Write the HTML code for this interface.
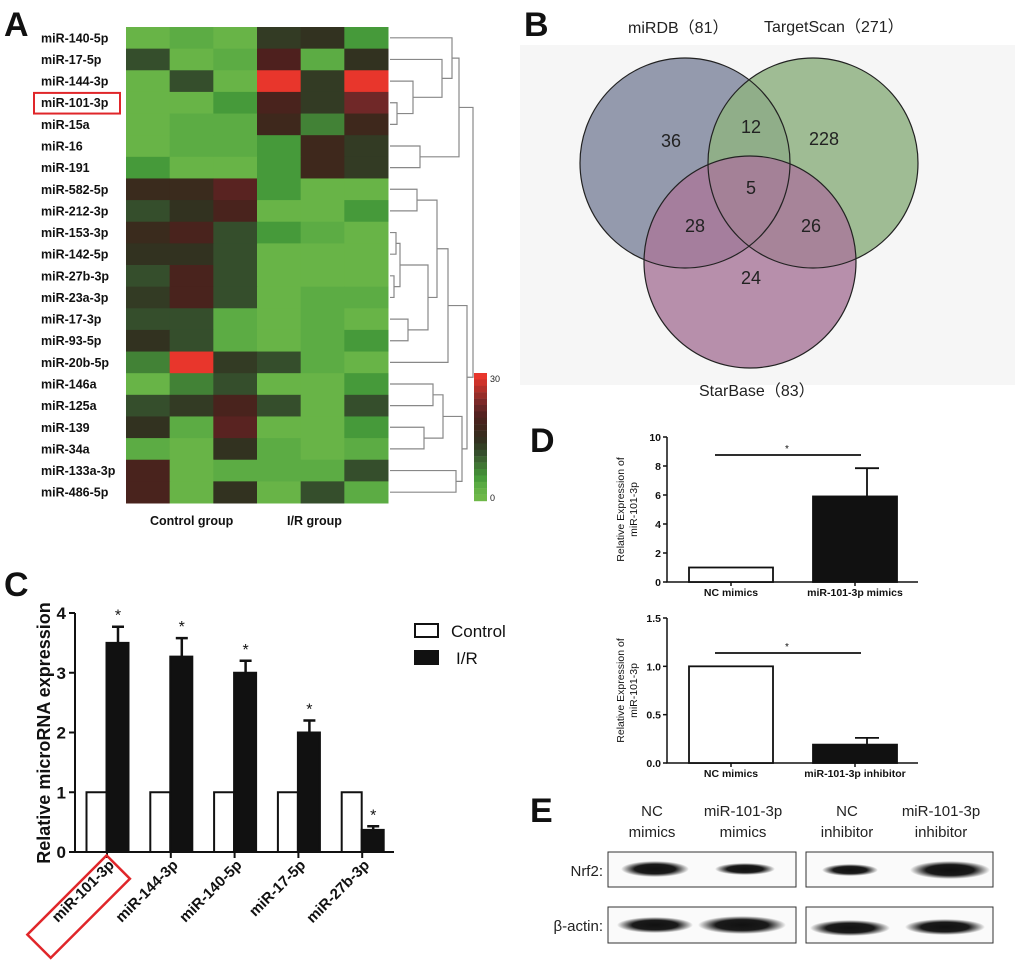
<!DOCTYPE html>
<html><head><meta charset="utf-8"><style>
html,body{margin:0;padding:0;background:#fff;}
svg{display:block;font-family:"Liberation Sans",sans-serif;}
</style></head><body>
<svg id="fig" width="1020" height="966" viewBox="0 0 1020 966" xmlns="http://www.w3.org/2000/svg">
<g font-weight="bold" font-size="34" fill="#111">
<text x="4" y="36">A</text>
<text x="524" y="36">B</text>
<text x="4" y="596">C</text>
<text x="530" y="452">D</text>
<text x="530" y="822">E</text>
</g>
<g id="heat"></g>
<g id="venn">
<rect x="520" y="45" width="495" height="340" fill="#f6f6f6"/>
<text x="628" y="33" font-size="16" fill="#222">miRDB（81）</text>
<text x="764" y="32" font-size="16" fill="#222">TargetScan（271）</text>
<text x="699" y="396" font-size="16" fill="#222">StarBase（83）</text>
<circle cx="685" cy="163" r="105" fill="#949aad"/>
<circle cx="813" cy="163" r="105" fill="#8fb282" fill-opacity="0.85"/>
<circle cx="750" cy="262" r="106" fill="#a8779a" fill-opacity="0.82"/>
<g fill="none" stroke="#222" stroke-width="1.2">
<circle cx="685" cy="163" r="105"/><circle cx="813" cy="163" r="105"/><circle cx="750" cy="262" r="106"/>
</g>
<g font-size="18" fill="#222" text-anchor="middle">
<text x="671" y="147">36</text>
<text x="751" y="133">12</text>
<text x="824" y="145">228</text>
<text x="751" y="194">5</text>
<text x="695" y="232">28</text>
<text x="811" y="232">26</text>
<text x="751" y="284">24</text>
</g>
</g>
<g id="chartC"></g>
<g id="chartD1"></g>
<g id="chartD2"></g>
<g id="blot">
<defs>
<radialGradient id="band"><stop offset="0" stop-color="#111"/><stop offset="0.6" stop-color="#1a1a1a"/><stop offset="1" stop-color="#1a1a1a" stop-opacity="0"/></radialGradient>
</defs>
<g font-size="15" fill="#222" text-anchor="middle">
<text x="652" y="816">NC</text><text x="652" y="837">mimics</text>
<text x="743" y="816">miR-101-3p</text><text x="743" y="837">mimics</text>
<text x="847" y="816">NC</text><text x="847" y="837">inhibitor</text>
<text x="941" y="816">miR-101-3p</text><text x="941" y="837">inhibitor</text>
</g>
<text x="603" y="876" font-size="15" text-anchor="end" fill="#222">Nrf2:</text>
<text x="603" y="931" font-size="15" text-anchor="end" fill="#222">β-actin:</text>
<g fill="#fafafa" stroke="#333" stroke-width="1">
<rect x="608" y="852" width="188" height="35"/>
<rect x="806" y="852" width="187" height="35"/>
<rect x="608" y="907" width="188" height="36"/>
<rect x="806" y="907" width="187" height="36"/>
</g>
<g fill="url(#band)">
<ellipse cx="655" cy="869" rx="34" ry="8"/><ellipse cx="745" cy="869" rx="30" ry="6"/>
<ellipse cx="850" cy="870" rx="28" ry="6"/><ellipse cx="950" cy="870" rx="40" ry="9"/>
<ellipse cx="655" cy="925" rx="38" ry="8"/><ellipse cx="742" cy="925" rx="44" ry="9"/>
<ellipse cx="850" cy="928" rx="40" ry="8"/><ellipse cx="945" cy="927" rx="40" ry="8"/>
</g>
</g>
</svg>
<script>
const NS="http://www.w3.org/2000/svg";
function mk(parent,tag,attrs,txt){const e=document.createElementNS(NS,tag);for(const k in attrs)e.setAttribute(k,attrs[k]);if(txt!==undefined)e.textContent=txt;parent.appendChild(e);return e;}

const heatRows=["miR-140-5p","miR-17-5p","miR-144-3p","miR-101-3p","miR-15a","miR-16","miR-191","miR-582-5p","miR-212-3p","miR-153-3p","miR-142-5p","miR-27b-3p","miR-23a-3p","miR-17-3p","miR-93-5p","miR-20b-5p","miR-146a","miR-125a","miR-139","miR-34a","miR-133a-3p","miR-486-5p"];
const heatValues=[
[1,3,1,13,14,5],[11,1,3,20,3,14],[1,11,1,30,13,30],[1,1,5,19,13,23],[1,3,3,17,7,17],[1,3,3,5,17,13],[5,1,1,5,17,13],
[16,16,21,5,1,1],[11,14,19,1,1,5],[16,19,11,5,3,1],[14,14,11,1,1,1],[11,19,11,1,1,1],[13,19,11,1,3,3],[11,11,3,1,3,1],
[14,11,3,1,3,5],[7,30,13,11,3,1],[1,7,11,1,1,5],[11,13,19,11,1,11],[14,3,21,1,1,5],[3,1,14,3,1,3],[19,1,3,3,3,11],[19,1,14,1,11,3]];
const colorbarTicks=["30","0"];
const stops=[[0,[110,184,72]],[3,[92,172,68]],[5,[70,154,58]],[8,[64,118,52]],[11,[53,78,44]],[14,[50,50,32]],[17,[62,40,28]],[20,[78,32,30]],[23,[112,40,40]],[30,[232,54,44]]];
function hcol(v){for(let i=1;i<stops.length;i++){if(v<=stops[i][0]){const a=stops[i-1],b=stops[i],t=(v-a[0])/(b[0]-a[0]);return "rgb("+a[1].map((c,j)=>Math.round(c+(b[1][j]-c)*t)).join(",")+")";}}return "rgb(232,54,44)";}
const heat=document.getElementById('heat');
const hx0=126,hy0=27,cw=(388-126)/6,rh=(503-27)/22;
heatRows.forEach((name,r)=>{
  const t=mk(heat,'text',{x:41,y:hy0+rh*r+rh/2+4.5,'font-size':12.5,'font-weight':'bold',fill:'#111'},name);
  
  
  heatValues[r].forEach((v,c)=>{
    const rc=mk(heat,'rect',{x:hx0+c*cw,y:hy0+r*rh,width:cw+0.5,height:rh+0.5,fill:hcol(v)});
    
    
  });
});
const hbox=mk(heat,'rect',{x:34,y:hy0+3*rh+1,width:86,height:rh-1,fill:'none',stroke:'#e0262a','stroke-width':2});


const gl1=mk(heat,'text',{x:150,y:525,'font-size':12.5,'font-weight':'bold',fill:'#111'},'Control group');


const gl2=mk(heat,'text',{x:287,y:525,'font-size':12.5,'font-weight':'bold',fill:'#111'},'I/R group');


for(let i=0;i<20;i++){
  const v=30-i*30/19;
  const cb=mk(heat,'rect',{x:474,y:373+i*6.4,width:13,height:6.6,fill:hcol(v)});
  
  
}
const cbt1=mk(heat,'text',{x:490,y:382,'font-size':9,fill:'#222'},colorbarTicks[0]);


const cbt2=mk(heat,'text',{x:490,y:501,'font-size':9,fill:'#222'},colorbarTicks[1]);


const tree=[473,[459,[452,0,[442,1,[413,2,[397,3,4]]]],[420,5,6]],[467,[448,[437,[417,7,8],[428,[400,[396,9,10],[394,11,12]],[408,13,14]]],15],[462,[443,[433,16,17],[424,18,19]],[456,20,21]]]];
const dg=mk(heat,'g',{stroke:'#888','stroke-width':1.2,fill:'none'});


function dnode(n){ if(typeof n==='number'){return {x:390,y:hy0+rh*n+rh/2};}
  const a=dnode(n[1]),b=dnode(n[2]),h=n[0];
  mk(dg,'path',{d:`M${a.x},${a.y}H${h}V${b.y}H${b.x}`});
  return {x:h,y:(a.y+b.y)/2};}
dnode(tree);

// ---------- Panel C ----------
const cCats=["miR-101-3p","miR-144-3p","miR-140-5p","miR-17-5p","miR-27b-3p"];
const cControl=[1,1,1,1,1];
const cIR=[3.5,3.27,3.0,2.0,0.37];
const cIRerr=[0.27,0.31,0.2,0.2,0.06];
const cTicks=[0,1,2,3,4];
const C=document.getElementById('chartC');
const cy=v=>852-v*59.75, cx=i=>107+i*63.8;
mk(C,'path',{d:`M75,${cy(4)}V852H394`,stroke:'#111','stroke-width':2,fill:'none'});
cTicks.forEach(t=>{mk(C,'line',{x1:69,x2:75,y1:cy(t),y2:cy(t),stroke:'#111','stroke-width':2});
  const tl=mk(C,'text',{x:66,y:cy(t)+6,'font-size':17,'font-weight':'bold','text-anchor':'end',fill:'#111'},t);
  
  });
const cyl=mk(C,'text',{transform:'translate(50,733) rotate(-90)','font-size':18,'font-weight':'bold','text-anchor':'middle',fill:'#111'},'Relative microRNA expression');


cCats.forEach((cat,i)=>{
  const x=cx(i);
  const b1=mk(C,'rect',{x:x-20.5,y:cy(cControl[i]),width:20,height:852-cy(cControl[i]),fill:'#fff',stroke:'#111','stroke-width':2});
  
  
  mk(C,'path',{d:`M${x+11},${cy(cIR[i])}V${cy(cIR[i]+cIRerr[i])}M${x+5},${cy(cIR[i]+cIRerr[i])}H${x+17}`,stroke:'#111','stroke-width':2.5});
  const b2=mk(C,'rect',{x:x-0.5,y:cy(cIR[i]),width:22,height:852-cy(cIR[i]),fill:'#111',stroke:'#111','stroke-width':2});
  
  
  const st=mk(C,'text',{x:x+11,y:cy(cIR[i]+cIRerr[i])-6,'font-size':16,'text-anchor':'middle',fill:'#111'},'*');
  
  
  mk(C,'line',{x1:x,x2:x,y1:852,y2:858,stroke:'#111','stroke-width':2});
  const xl=mk(C,'text',{transform:`translate(${x+8},${866}) rotate(-45)`,'font-size':15,'font-weight':'bold','text-anchor':'end',fill:'#111'},cat);
  
  
});
const cbx=mk(C,'rect',{transform:'translate(79,907) rotate(-45)',x:-56,y:-17,width:112,height:33,fill:'none',stroke:'#e0262a','stroke-width':2.5});


const lg1=mk(C,'rect',{x:415,y:624,width:23,height:13,fill:'#fff',stroke:'#111','stroke-width':2});


const lg2=mk(C,'rect',{x:415,y:651,width:23,height:13,fill:'#111',stroke:'#111','stroke-width':2});


const lt1=mk(C,'text',{x:451,y:637,'font-size':17,fill:'#111'},'Control');


const lt2=mk(C,'text',{x:456,y:664,'font-size':17,fill:'#111'},'I/R');



// ---------- Panel D ----------
const d1Cats=["NC mimics","miR-101-3p mimics"];
const d1Vals=[1,5.9];
const d1Err=[0,1.95];
const d1Ticks=[0,2,4,6,8,10];
const d2Cats=["NC mimics","miR-101-3p inhibitor"];
const d2Vals=[1,0.19];
const d2Err=[0,0.07];
const d2Ticks=["0.0","0.5","1.0","1.5"];
function dChart(id,cats,vals,errs,ticks,y0,yTop,maxV,sigY){
  const G=document.getElementById(id);
  const sy=v=>y0-(v/maxV)*(y0-yTop);
  mk(G,'path',{d:`M667,${yTop}V${y0}H918`,stroke:'#111','stroke-width':1.5,fill:'none'});
  ticks.forEach(t=>{const v=parseFloat(t);mk(G,'line',{x1:663,x2:667,y1:sy(v),y2:sy(v),stroke:'#111','stroke-width':1.5});
    const tl=mk(G,'text',{x:661,y:sy(v)+4,'font-size':10.5,'font-weight':'bold','text-anchor':'end',fill:'#111'},t);
    
    });
  const yl=mk(G,'text',{transform:`translate(624,${(y0+yTop)/2}) rotate(-90)`,'font-size':10.5,'text-anchor':'middle',fill:'#111'});
  
  
  mk(yl,'tspan',{x:0,dy:0},'Relative Expression of');
  mk(yl,'tspan',{x:0,dy:13},'miR-101-3p');
  const bx=[689,813];
  cats.forEach((c,i)=>{
    if(errs[i]>0)mk(G,'path',{d:`M${bx[i]+54},${sy(vals[i])}V${sy(vals[i]+errs[i])}M${bx[i]+42},${sy(vals[i]+errs[i])}H${bx[i]+66}`,stroke:'#111','stroke-width':1.8});
    const b=mk(G,'rect',{x:bx[i],y:sy(vals[i]),width:84,height:y0-sy(vals[i]),fill:i?'#111':'#fff',stroke:'#111','stroke-width':1.8});
    
    
    mk(G,'line',{x1:bx[i]+42,x2:bx[i]+42,y1:y0,y2:y0+4,stroke:'#111','stroke-width':1.5});
    const xl=mk(G,'text',{x:bx[i]+42,y:y0+14,'font-size':10.5,'font-weight':'bold','text-anchor':'middle',fill:'#111'},c);
    
    
  });
  mk(G,'line',{x1:715,x2:861,y1:sigY,y2:sigY,stroke:'#111','stroke-width':1.8});
  const st=mk(G,'text',{x:787,y:sigY-3,'font-size':10,'text-anchor':'middle',fill:'#111'},'*');
  
  
}
dChart('chartD1',d1Cats,d1Vals,d1Err,d1Ticks,582,437,10,455);
dChart('chartD2',d2Cats,d2Vals,d2Err,d2Ticks,763,618,1.5,653);
</script>
</body></html>
